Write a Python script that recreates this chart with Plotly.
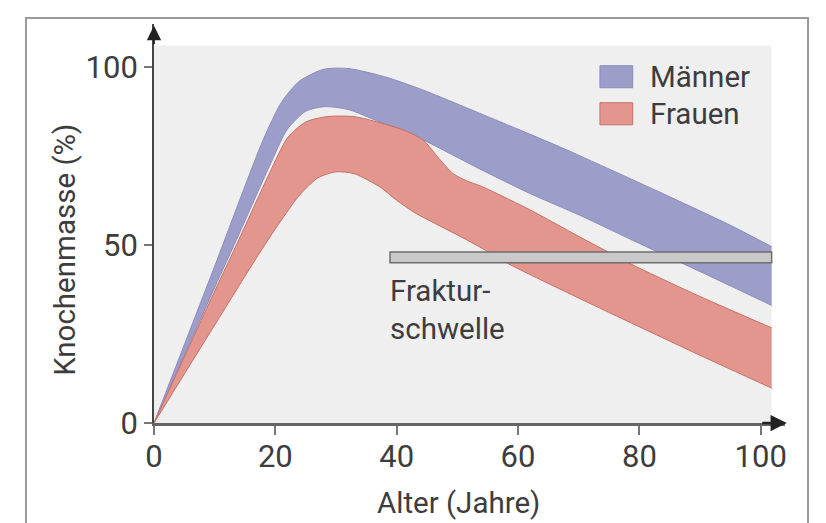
import plotly.graph_objects as go

# ---- data ----
alter_m_oben = [0, 10, 18, 21, 24, 28, 32, 38, 44.3, 55, 66.9, 75, 85, 95, 101.8]
maenner_oben = [0, 44, 79.5, 90, 96, 99.3, 99.5, 97.2, 93.5, 86, 77.5, 71.3, 63.5, 55.5, 49.5]

alter_m_unten = [0, 10, 14, 19, 22, 25, 28, 32, 37.2, 44.3, 53.7, 62, 70.2, 80, 88, 95, 101.8]
maenner_unten = [0, 38, 53, 72, 82.5, 87.5, 88.8, 88, 84.5, 79.5, 71.3, 64.4, 58.3, 50.4, 44.1, 38.5, 33]

alter_f_oben = [0, 10, 14, 19, 22, 25, 28.5, 33, 37.2, 41, 44.3, 47, 49.3, 51.5, 54, 62, 70.2, 79.6, 90, 101.8]
frauen_oben = [0, 37, 51.5, 70, 80, 84.5, 86, 86, 84.3, 82.3, 79.5, 74.2, 70, 68, 66.4, 59.8, 52.2, 43.8, 35.5, 26.7]

alter_f_unten = [0, 10, 17.5, 21, 24, 27, 30, 33, 37.2, 40, 43, 46, 50, 53.7, 58.2, 66.9, 80, 90, 101.8]
frauen_unten = [0, 27.5, 48, 57, 64, 68.8, 70.5, 70, 66.3, 62.5, 59, 56.3, 52.8, 49.4, 44.9, 37.6, 27, 19, 9.8]

schwelle_alter = [38.9, 101.8]
schwelle_wert = [45.0, 48.0]

x_ticks = [0, 20, 40, 60, 80, 100]
y_ticks = [0, 50, 100]
serien = ["Männer", "Frauen"]

FONT = "Roboto"
TXT = "#3d3d3d"
FS = 29.5
FS_TICK = 31
C_M = "#9d9dca"
C_M_LINE = "#8c8cbc"
C_F = "#e2968d"
C_F_LINE = "#c86f66"

fig = go.Figure()

def band(x_lo, y_lo, x_hi, y_hi, fill, line, name):
    fig.add_trace(go.Scatter(x=x_lo, y=y_lo, mode="lines",
                             line=dict(color=line, width=1, shape="spline", smoothing=0.7),
                             showlegend=False, hoverinfo="skip", name=name))
    fig.add_trace(go.Scatter(x=x_hi, y=y_hi, mode="lines", fill="tonexty", fillcolor=fill,
                             line=dict(color=line, width=1, shape="spline", smoothing=0.7),
                             showlegend=False, name=name))

band(alter_m_unten, maenner_unten, alter_m_oben, maenner_oben, C_M, C_M_LINE, serien[0])
band(alter_f_unten, frauen_unten, alter_f_oben, frauen_oben, C_F, C_F_LINE, serien[1])

shapes = []
# grey plotting background
shapes.append(dict(type="rect", xref="x", yref="y", x0=0, x1=101.8, y0=0, y1=106,
                   fillcolor="#efefef", line=dict(width=0), layer="below"))
# fracture threshold bar
shapes.append(dict(type="rect", xref="x", yref="y",
                   x0=schwelle_alter[0], x1=schwelle_alter[1],
                   y0=schwelle_wert[0], y1=schwelle_wert[1],
                   fillcolor="#c9c9c9", line=dict(color="#6e6e6e", width=1.5), layer="above"))
# outer frame
shapes.append(dict(type="rect", xref="paper", yref="paper",
                   x0=-0.2029, x1=1.0365, y0=-0.32, y1=1.015,
                   fillcolor="rgba(0,0,0,0)", line=dict(color="#9a9a9a", width=2)))
# legend boxes
shapes.append(dict(type="rect", xref="x", yref="y", x0=73.5, x1=78.9, y0=94.1, y1=100.3,
                   fillcolor=C_M, line=dict(color=C_M_LINE, width=1)))
shapes.append(dict(type="rect", xref="x", yref="y", x0=73.5, x1=78.9, y0=83.7, y1=89.9,
                   fillcolor=C_F, line=dict(color=C_F_LINE, width=1)))

annotations = [
    dict(x=81.4, y=97.2, xref="x", yref="y", text=serien[0], showarrow=False,
         xanchor="left", yanchor="middle", font=dict(family=FONT, size=FS, color=TXT)),
    dict(x=81.4, y=86.8, xref="x", yref="y", text=serien[1], showarrow=False,
         xanchor="left", yanchor="middle", font=dict(family=FONT, size=FS, color=TXT)),
    dict(x=38.6, y=31.7, xref="x", yref="y", text="Fraktur-<br>schwelle", showarrow=False,
         xanchor="left", yanchor="middle", align="left",
         font=dict(family=FONT, size=FS, color=TXT)),
    # axis titles
    dict(x=50.2, y=-0.2005, xref="x", yref="paper", text="Alter (Jahre)", showarrow=False,
         xanchor="center", yanchor="middle", font=dict(family=FONT, size=FS, color=TXT)),
    dict(x=-0.141, y=0.434, xref="paper", yref="paper", text="Knochenmasse (%)",
         showarrow=False, textangle=-90, xanchor="center", yanchor="middle",
         font=dict(family=FONT, size=FS, color=TXT)),
    # axis arrows
    dict(x=104.3, y=0, ax=100, ay=0, xref="x", yref="y", axref="x", ayref="y",
         showarrow=True, arrowhead=2, arrowsize=1.3, arrowwidth=2.5, arrowcolor="#222", text=""),
    dict(x=0, y=111.5, ax=0, ay=106, xref="x", yref="y", axref="x", ayref="y",
         showarrow=True, arrowhead=2, arrowsize=1.6, arrowwidth=1.8, arrowcolor="#222", text=""),
]

# the page body adds an 8 px offset; figure is sized/margined to compensate
fig.update_layout(
    width=818, height=515,
    margin=dict(l=146, r=41, t=16, b=100),
    paper_bgcolor="white", plot_bgcolor="white",
    font=dict(family=FONT, size=FS, color=TXT),
    shapes=shapes, annotations=annotations, showlegend=False,
    xaxis=dict(range=[0, 104], tickvals=x_ticks, ticktext=[str(v) for v in x_ticks],
               ticks="outside", ticklen=9, tickwidth=1.5, tickcolor="#777",
               ticklabelstandoff=-5,
               showline=True, linecolor="#666", linewidth=3,
               showgrid=False, zeroline=False,
               tickfont=dict(family=FONT, size=FS_TICK, color=TXT)),
    yaxis=dict(range=[0, 112], tickvals=y_ticks, ticktext=[str(v) for v in y_ticks],
               ticks="outside", ticklen=8, tickwidth=1.5, tickcolor="#777",
               showline=True, linecolor="#444", linewidth=1.8,
               showgrid=False, zeroline=False,
               tickfont=dict(family=FONT, size=FS_TICK, color=TXT)),
)

fig.write_html("out.html")
